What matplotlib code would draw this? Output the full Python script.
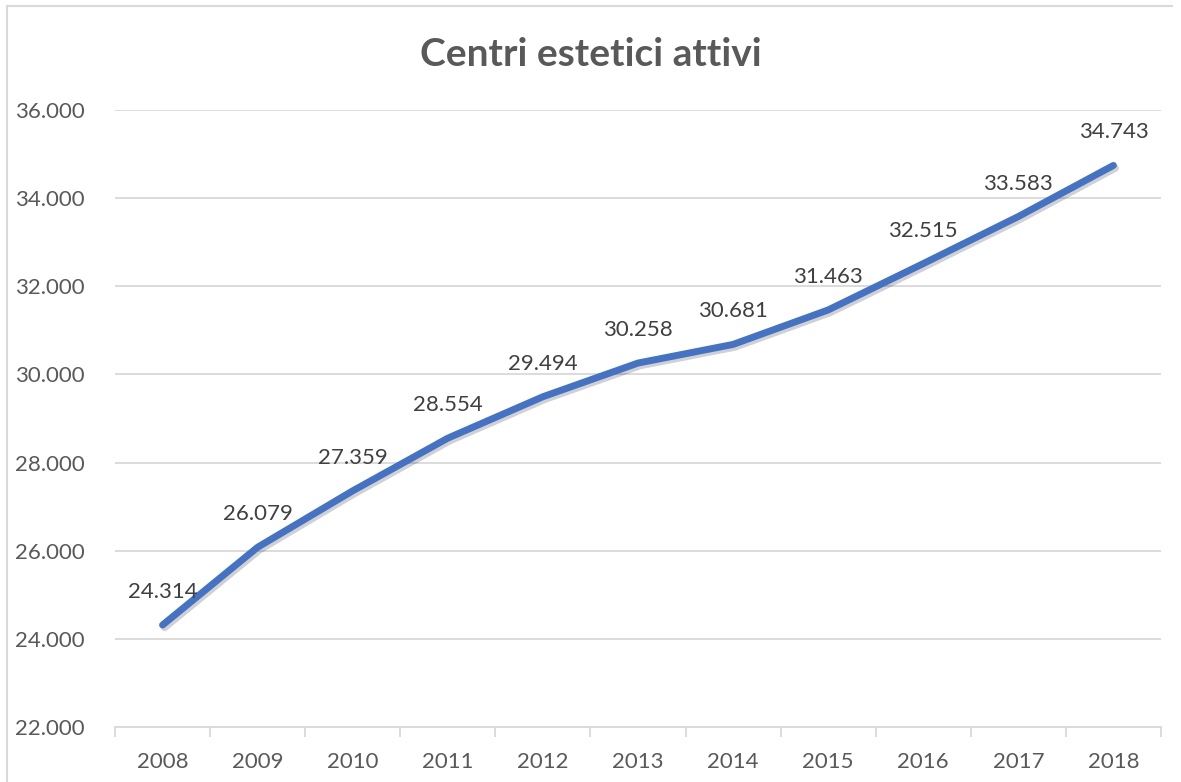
import matplotlib.pyplot as plt
from matplotlib.lines import Line2D
import matplotlib.patheffects as pe

anni = ['2008', '2009', '2010', '2011', '2012', '2013', '2014', '2015', '2016', '2017', '2018']
centri = [24314, 26079, 27359, 28554, 29494, 30258, 30681, 31463, 32515, 33583, 34743]
y_ticks = [22000, 24000, 26000, 28000, 30000, 32000, 34000, 36000]

plt.rcParams['font.family'] = ['Lato', 'DejaVu Sans']
testo = '#595959'
griglia = '#D9D9D9'


def fmt(v):
    return f'{v:,}'.replace(',', '.')


fig = plt.figure(figsize=(11.81, 7.82), dpi=100)
ax = fig.add_axes([115 / 1181, 1 - 727 / 782, 1046 / 1181, 617 / 782])

x = list(range(len(anni)))
ax.plot(x, centri, color='#4472C4', linewidth=5, solid_capstyle='round', zorder=3,
        path_effects=[pe.SimpleLineShadow(offset=(1.5, -2), alpha=0.18), pe.Normal()])

for xi, v in zip(x, centri):
    ax.annotate(fmt(v), (xi, v), xytext=(0, 33), textcoords='offset pixels',
                ha='center', va='center', fontsize=16, color='#404040', zorder=4)

ax.set_xlim(-0.5, len(anni) - 0.5)
ax.set_ylim(22000, 36000)
ax.set_yticks(y_ticks)
ax.set_yticklabels([fmt(v) for v in y_ticks])
ax.set_xticks(x)
ax.set_xticklabels(anni)
ax.set_xticks([i - 0.5 for i in range(len(anni) + 1)], minor=True)

ax.grid(axis='y', color=griglia, linewidth=1.3, zorder=0)
for s in ['top', 'right', 'left']:
    ax.spines[s].set_visible(False)
ax.spines['bottom'].set_color(griglia)
ax.spines['bottom'].set_linewidth(1.3)

ax.tick_params(axis='y', length=0, pad=22, labelsize=16, labelcolor=testo)
ax.tick_params(axis='x', which='major', length=0, pad=18, labelsize=16, labelcolor=testo)
ax.tick_params(axis='x', which='minor', length=7, width=1.3, color=griglia)

fig.text(0.5, 1 - 54 / 782, 'Centri estetici attivi', ha='center', va='center',
         fontsize=28, fontweight='bold', color=testo)

# cornice del grafico
fig.add_artist(Line2D([7 / 1181, 1172 / 1181], [1 - 6 / 782, 1 - 6 / 782],
                      color=griglia, linewidth=1.5, transform=fig.transFigure))
fig.add_artist(Line2D([7 / 1181, 7 / 1181], [0, 1 - 6 / 782],
                      color=griglia, linewidth=1.5, transform=fig.transFigure))

fig.savefig('out.png', dpi=100)
